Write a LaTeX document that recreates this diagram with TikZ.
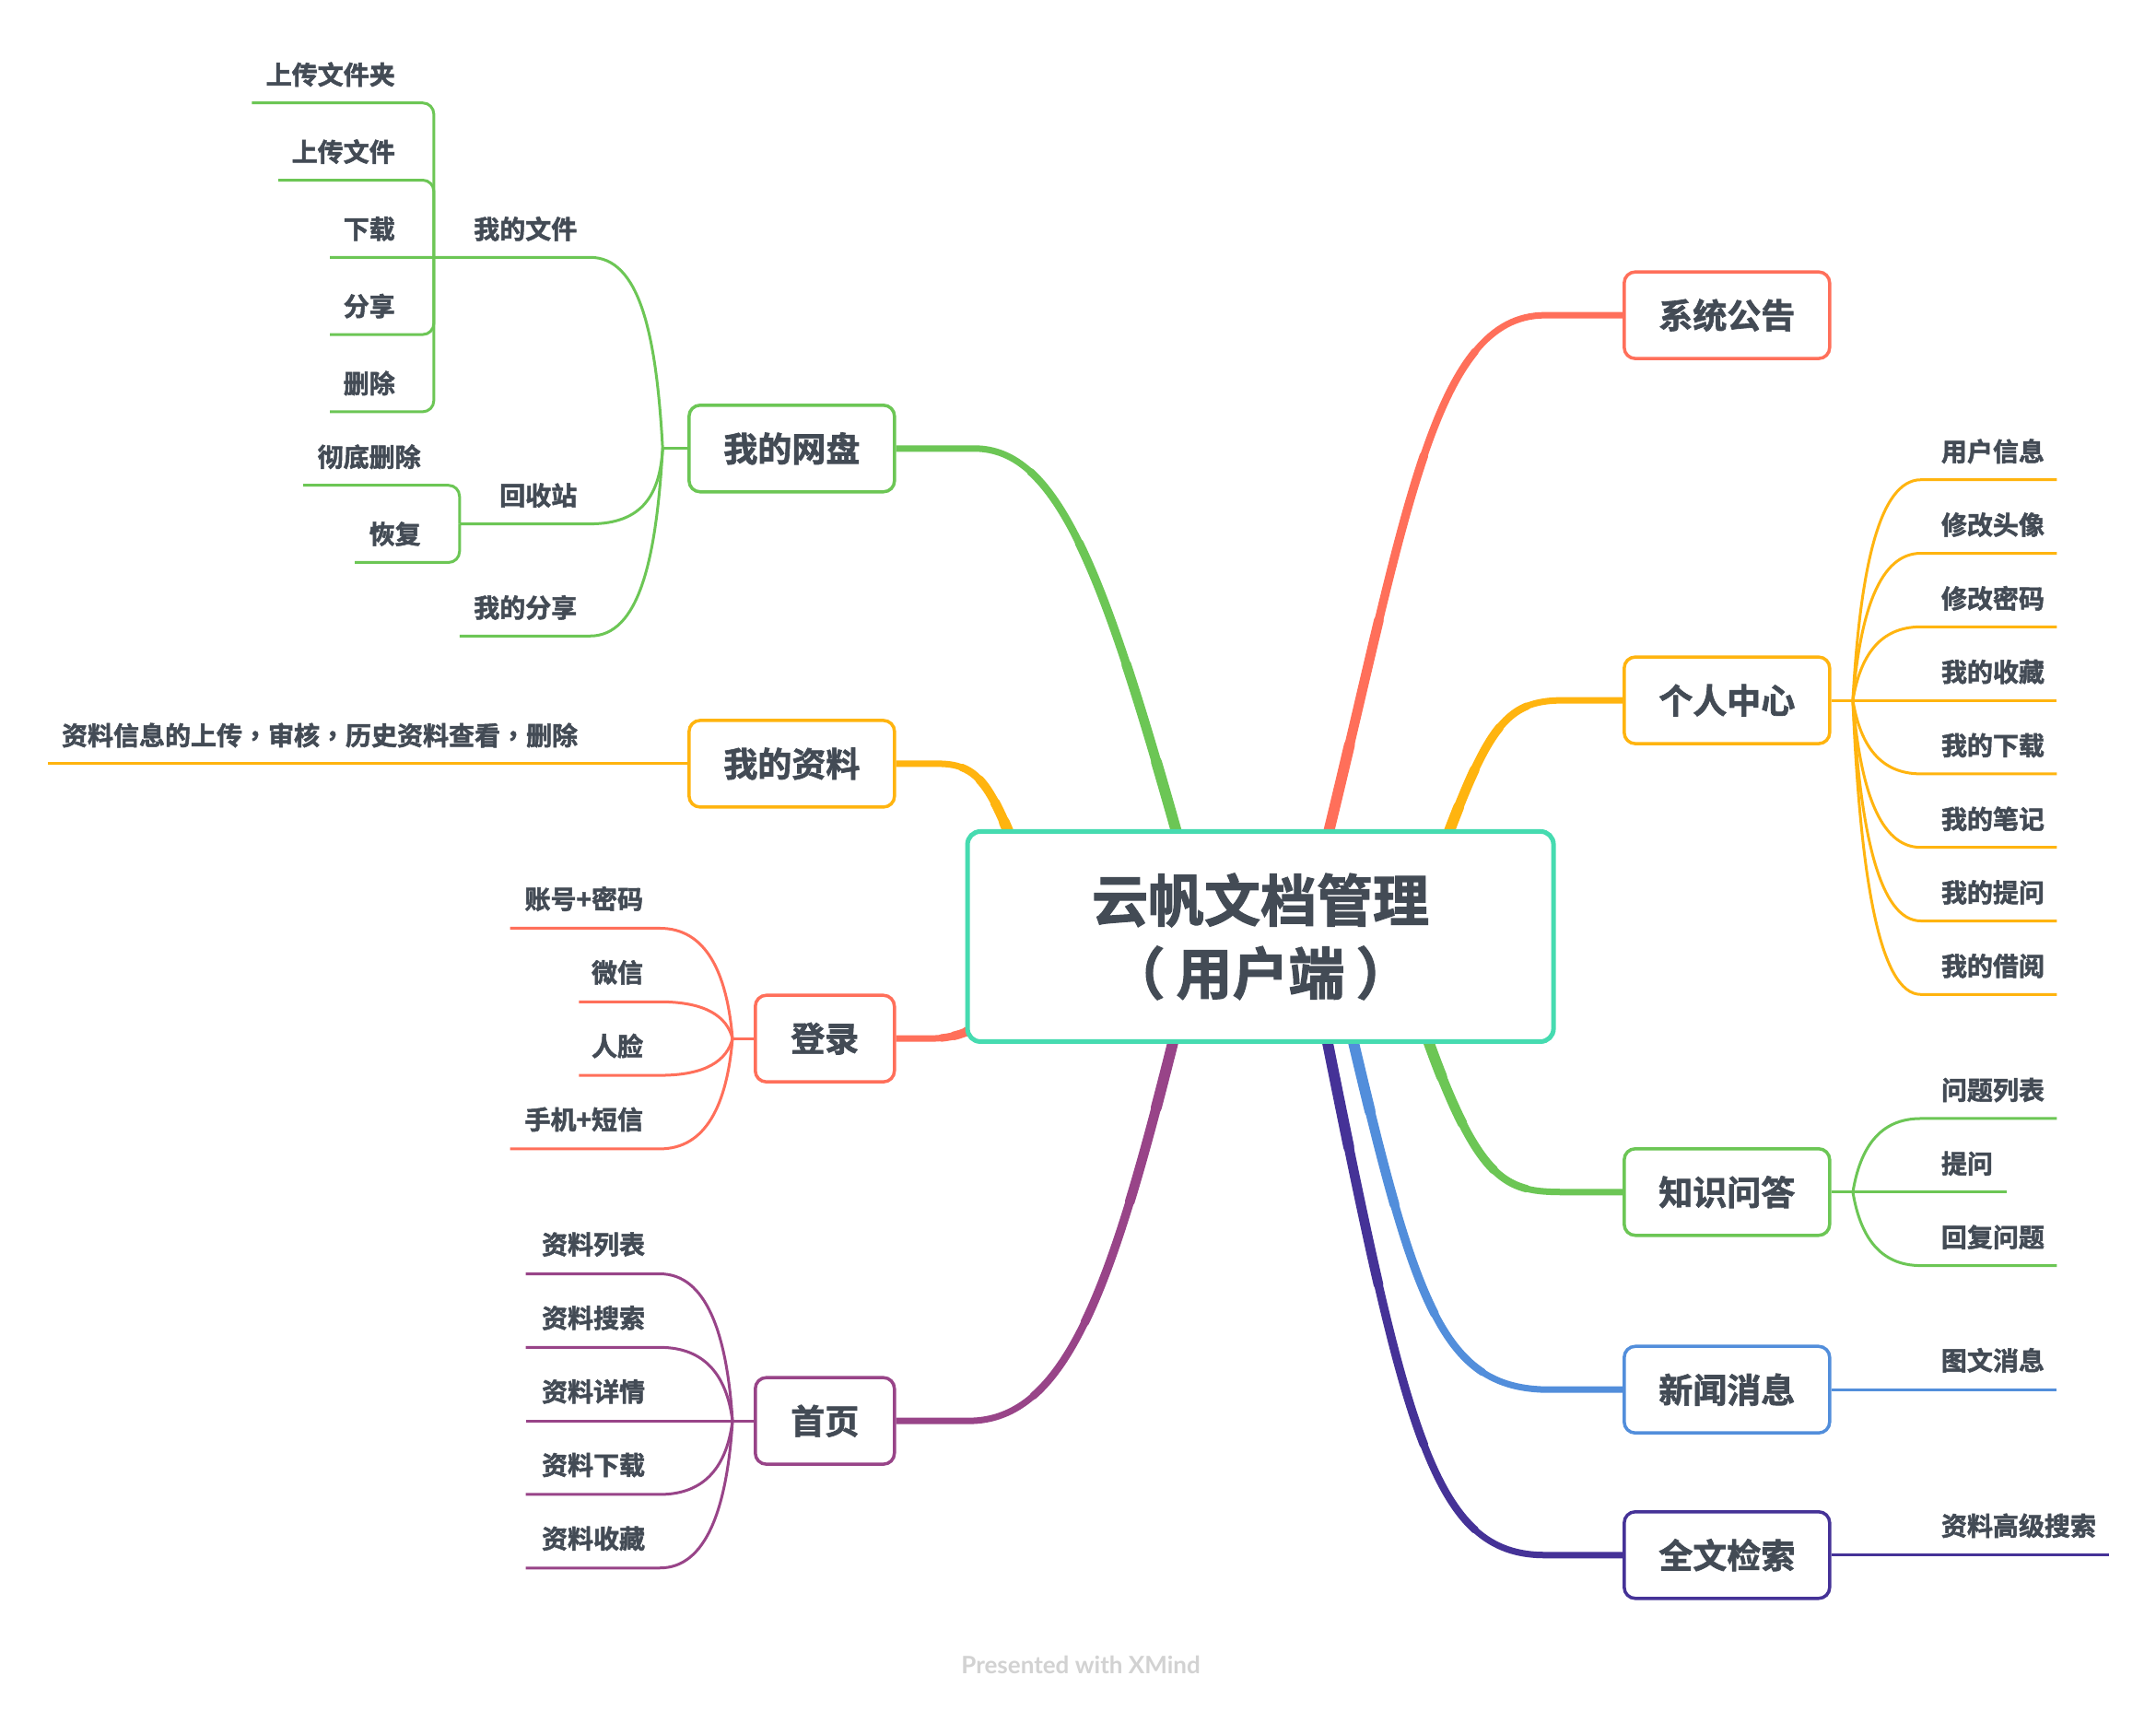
\documentclass[tikz,border=0pt]{standalone}
\usepackage{fontspec}
\newfontfamily\cjk{Noto Sans CJK SC}[BoldFont={Noto Sans CJK SC Bold}, BoldFeatures={FakeBold=1.8}]
\newfontfamily\cjktc{Noto Sans CJK TC}[BoldFont={Noto Sans CJK TC Bold}, BoldFeatures={FakeBold=1.8}]
\newfontfamily\footfont{Lato}
\usetikzlibrary{calc}
\definecolor{txt}{HTML}{434B55}
\definecolor{xteal}{HTML}{46DBB0}
\definecolor{xcoral}{HTML}{FF6F5A}
\definecolor{xgreen}{HTML}{6CC655}
\definecolor{xamber}{HTML}{FFB40F}
\definecolor{xpurple}{HTML}{984488}
\definecolor{xindigo}{HTML}{453297}
\definecolor{xblue}{HTML}{528EDB}
\definecolor{footgray}{HTML}{D2D2D2}
\pgfdeclarelayer{bg}
\pgfsetlayers{bg,main}
\newcommand\tcomma{{\cjktc\bfseries ，}}
% tapered main branch: colour, start, c1, c2, curve end, final node anchor
\newcommand\taperbranch[6]{%
  \draw[#1, line width=7pt] (#2) .. controls (#3) and (#4) .. (#5) -- (#6);
  \foreach \tv/\wv in {0.75/8.2, 0.5/9.4, 0.25/10.6, 0.1/11.8} {%
    \path ($(#2)!\tv!(#3)$) coordinate (ta) ($(#3)!\tv!(#4)$) coordinate (tb) ($(#4)!\tv!(#5)$) coordinate (tc);
    \path ($(ta)!\tv!(tb)$) coordinate (tab) ($(tb)!\tv!(tc)$) coordinate (tbc);
    \path ($(tab)!\tv!(tbc)$) coordinate (tabc);
    \draw[#1, line width=\wv pt, line cap=round] (#2) .. controls (ta) and (tab) .. (tabc);
  }%
}
\begin{document}
\begin{tikzpicture}[x=0.9975pt,y=-0.9975pt,
  every node/.style={inner sep=0pt, text=txt},
  ctext/.style={font=\cjk\bfseries\fontsize{28}{34}\selectfont},
  topic/.style={draw, line width=3.5pt, rounded corners=12pt, fill=white,
    minimum width=223pt, minimum height=94pt,
    font=\cjk\bfseries\fontsize{37}{44}\selectfont},
  subline/.style={line width=3pt},
]
\useasboundingbox (0,0) rectangle (2345.86,1860.65);

% ---------- nodes ----------
\node[draw=xteal, line width=5pt, rounded corners=14pt, fill=white,
  minimum width=636pt, minimum height=228pt, align=center,
  font=\cjk\bfseries\fontsize{61}{79}\selectfont] (root) at (1371.5,1019) {云帆文档管理\\（\hspace{12pt}用户端\hspace{12pt}）};

\node[topic, draw=xcoral]  (sys)  at (1879,343)  {系统公告};
\node[topic, draw=xamber]  (grzx) at (1879,762)  {个人中心};
\node[topic, draw=xgreen]  (zswd) at (1879,1297) {知识问答};
\node[topic, draw=xblue]   (xwxx) at (1879,1512) {新闻消息};
\node[topic, draw=xindigo] (qwjs) at (1879,1692) {全文检索};
\node[topic, draw=xgreen]  (wdwp) at (861.5,488) {我的网盘};
\node[topic, draw=xamber]  (wdzl) at (861.5,831) {我的资料};
\node[topic, draw=xcoral, minimum width=151pt]  (dl) at (897.5,1130) {登录};
\node[topic, draw=xpurple, minimum width=151pt] (sy) at (897.5,1546) {首页};

% junctions
\coordinate (gj) at (2016,762);
\coordinate (zj) at (2016,1297);
\coordinate (wj) at (721,488);
\coordinate (dj) at (797,1130);
\coordinate (sj) at (797,1546);
\coordinate (wfbar) at (472,280);
\coordinate (hsbar) at (500,570);

\begin{pgfonlayer}{bg}
\fill[white] (0,0) rectangle (2345.86,1860.65);
% main connectors
\taperbranch{xcoral}{1444,912}{1530,560}{1560,343}{1681,343}{sys.west}
\taperbranch{xamber}{1574,912}{1620,790}{1640,762}{1700,762}{grzx.west}
\taperbranch{xgreen}{1552,1127}{1610,1290}{1640,1297}{1703,1297}{zswd.west}
\taperbranch{xblue}{1471,1127}{1540,1420}{1570,1512}{1686,1512}{xwxx.west}
\taperbranch{xindigo}{1443,1127}{1530,1560}{1560,1692}{1681,1692}{qwjs.west}
\taperbranch{xgreen}{1282,912}{1200,620}{1150,488}{1060,488}{wdwp.east}
\taperbranch{xamber}{1100,912}{1075,850}{1060,831}{1021,831}{wdzl.east}
\taperbranch{xcoral}{1066,1116}{1045,1127}{1030,1130}{1010,1130}{dl.east}
\taperbranch{xpurple}{1278,1127}{1210,1400}{1160,1546}{1054,1546}{sy.east}
\end{pgfonlayer}

% ---------- 个人中心 ----------
\draw[subline, xamber] (grzx.east) -- (gj);
\foreach \t [count=\i from 0] in {用户信息,修改头像,修改密码,我的收藏,我的下载,我的笔记,我的提问,我的借阅} {
  \pgfmathsetmacro\yy{522+80*\i}
  \pgfmathsetmacro\cy{762+0.6*(\yy-762)}
  \draw[subline, xamber] (gj) .. controls (2024,\cy) and (2045,\yy) .. (2090,\yy) -- (2238,\yy);
  \node[ctext, anchor=west] (g\i) at (2112,{\yy-31}) {\t};
}

% ---------- 知识问答 ----------
\draw[subline, xgreen] (zswd.east) -- (zj);
\draw[subline, xgreen] (zj) .. controls (2024,1249) and (2045,1217) .. (2090,1217) -- (2238,1217);
\draw[subline, xgreen] (zj) -- (2183,1297);
\draw[subline, xgreen] (zj) .. controls (2024,1345) and (2045,1377) .. (2090,1377) -- (2238,1377);
\node[ctext, anchor=west] (z0) at (2112,1186) {问题列表};
\node[ctext, anchor=west] (z1) at (2112,1266) {提问};
\node[ctext, anchor=west] (z2) at (2112,1346) {回复问题};

% ---------- 新闻消息 / 全文检索 ----------
\draw[subline, xblue] (xwxx.east) -- (2238,1512);
\node[ctext, anchor=west] (x0) at (2112,1480) {图文消息};
\draw[subline, xindigo] (qwjs.east) -- (2295,1692);
\node[ctext, anchor=west] (q0) at (2112,1660) {资料高级搜索};

% ---------- 我的网盘 ----------
\draw[subline, xgreen] (wdwp.west) -- (wj);
\draw[subline, xgreen] (wj) .. controls (714,360) and (695,280) .. (642,280) -- (359,280);
\draw[subline, xgreen] (wj) .. controls (718,537) and (700,570) .. (642,570) -- (hsbar);
\draw[subline, xgreen] (wj) .. controls (714,610) and (695,692) .. (642,692) -- (500,692);
\draw[subline, xgreen, rounded corners=12pt] (274,112) -| (wfbar);
\draw[subline, xgreen, rounded corners=12pt] (303,196) -| (wfbar);
\draw[subline, xgreen, rounded corners=12pt] (359,364) -| (wfbar);
\draw[subline, xgreen, rounded corners=12pt] (359,448) -| (wfbar);
\draw[subline, xgreen, rounded corners=12pt] (330,528) -| (hsbar);
\draw[subline, xgreen, rounded corners=12pt] (386,612) -| (hsbar);
\node[ctext, anchor=east] (w0) at (430,81)  {上传文件夹};
\node[ctext, anchor=east] (w1) at (430,165) {上传文件};
\node[ctext, anchor=east] (w2) at (430,249) {下载};
\node[ctext, anchor=east] (w3) at (430,333) {分享};
\node[ctext, anchor=east] (w4) at (430,417) {删除};
\node[ctext, anchor=east] (wf) at (628,249) {我的文件};
\node[ctext, anchor=east] (hs) at (628,539) {回收站};
\node[ctext, anchor=east] (fx) at (628,661) {我的分享};
\node[ctext, anchor=east] (h0) at (458,497) {彻底删除};
\node[ctext, anchor=east] (h1) at (458,581) {恢复};

% ---------- 我的资料 ----------
\draw[subline, xamber] (wdzl.west) -- (52,831);
\node[ctext, anchor=west] (zl0) at (67,800) {资料信息的上传\tcomma 审核\tcomma 历史资料查看\tcomma 删除};

% ---------- 登录 ----------
\draw[subline, xcoral] (dl.west) -- (dj);
\foreach \t/\l [count=\i from 0] in {账号+密码/555,微信/630,人脸/630,手机+短信/555} {
  \pgfmathsetmacro\yy{1010+80*\i}
  \pgfmathsetmacro\cy{1130+0.6*(\yy-1130)}
  \draw[subline, xcoral] (dj) .. controls (791,\cy) and (768,\yy) .. (718,\yy) -- (\l,\yy);
  \node[ctext, anchor=east] (d\i) at (700,{\yy-32}) {\t};
}

% ---------- 首页 ----------
\draw[subline, xpurple] (sy.west) -- (sj);
\foreach \t [count=\i from 0] in {资料列表,资料搜索,资料详情,资料下载,资料收藏} {
  \pgfmathsetmacro\yy{1386+80*\i}
  \pgfmathsetmacro\cy{1546+0.6*(\yy-1546)}
  \draw[subline, xpurple] (sj) .. controls (791,\cy) and (768,\yy) .. (718,\yy) -- (572,\yy);
  \node[ctext, anchor=east] (s\i) at (702,{\yy-32}) {\t};
}

% footer
\node[font=\footfont\bfseries\fontsize{26}{30}\selectfont, text=footgray] (ft) at (1176,1811) {Presented with XMind};
\end{tikzpicture}
\end{document}
